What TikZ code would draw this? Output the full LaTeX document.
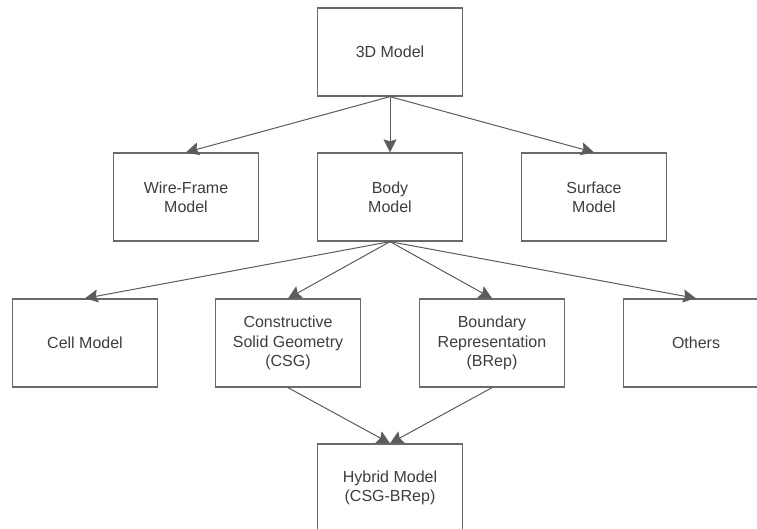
\documentclass[tikz,border=0pt]{standalone}
\usepackage{fontspec}
\setmainfont{Liberation Sans}
\usetikzlibrary{arrows.meta}
\definecolor{boxline}{HTML}{6A6A6A}
\definecolor{connline}{HTML}{5C5C5C}
\definecolor{labeltext}{HTML}{3E3E3E}
\begin{document}
\begin{tikzpicture}[x=1pt,y=-1pt,
  modelbox/.style={draw=boxline, line width=1.3pt, fill=white, rectangle,
    minimum width=145pt, minimum height=88pt, inner sep=0pt,
    align=center, text=labeltext,
    font=\fontsize{16}{19.2}\selectfont},
  conn/.style={draw=connline, line width=1pt,
    -{Stealth[length=13pt, width=13pt, inset=2pt]}}]
  \clip (0,0) rectangle (757,529);
  \fill[white] (0,0) rectangle (757,529);

  % level 0
  \node[modelbox] (model3d) at (390,52) {3D Model};
  % level 1
  \node[modelbox] (wire) at (186,197) {Wire-Frame\\Model};
  \node[modelbox] (body) at (390,197) {Body\\Model};
  \node[modelbox] (surface) at (594,197) {Surface\\Model};
  % level 2
  \node[modelbox] (cell) at (85,343) {Cell Model};
  \node[modelbox] (csg) at (288,343) {Constructive\\Solid Geometry\\(CSG)};
  \node[modelbox] (brep) at (492,343) {Boundary\\Representation\\(BRep)};
  \node[modelbox] (others) at (696,343) {Others};
  % level 3
  \node[modelbox] (hybrid) at (390,488) {Hybrid Model\\(CSG-BRep)};

  \draw[conn] (model3d.south) -- (wire.north);
  \draw[conn] (model3d.south) -- (body.north);
  \draw[conn] (model3d.south) -- (surface.north);

  \draw[conn] (body.south) -- (cell.north);
  \draw[conn] (body.south) -- (csg.north);
  \draw[conn] (body.south) -- (brep.north);
  \draw[conn] (body.south) -- (others.north);

  \draw[conn] (csg.south) -- (hybrid.north);
  \draw[conn] (brep.south) -- (hybrid.north);
\end{tikzpicture}
\end{document}
